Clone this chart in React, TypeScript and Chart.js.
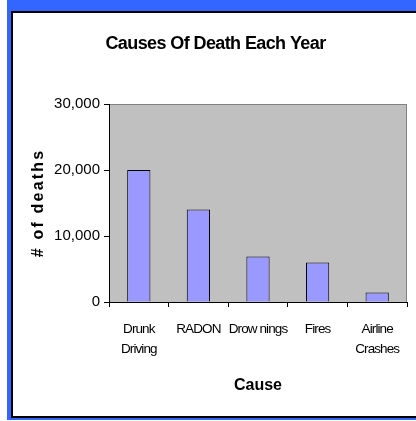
import React, { useEffect, useRef } from "react";
import { Chart, registerables } from "chart.js";

Chart.register(...registerables);

const categories: (string | string[])[] = [
  ["Drunk", "Driving"],
  "RADON",
  "Drow nings",
  "Fires",
  ["Airline", "Crashes"],
];
const deaths: number[] = [20000, 14000, 6900, 6000, 1450];
const yTicks: number[] = [0, 10000, 20000, 30000];
const chartTitle = "Causes Of Death Each Year";
const xTitle = "Cause";
const yTitle = "# of deaths";

const SANS = '"Liberation Sans", Arial, sans-serif';

const plotBg = {
  id: "plotBg",
  beforeDraw(chart: any) {
    const { ctx, chartArea } = chart;
    if (!chartArea) return;
    ctx.save();
    ctx.fillStyle = "#C0C0C0";
    ctx.fillRect(chartArea.left, chartArea.top, chartArea.right - chartArea.left, chartArea.bottom - chartArea.top);
    ctx.strokeStyle = "#808080";
    ctx.lineWidth = 1;
    ctx.beginPath();
    ctx.moveTo(chartArea.left, chartArea.top + 0.5);
    ctx.lineTo(chartArea.right - 0.5, chartArea.top + 0.5);
    ctx.lineTo(chartArea.right - 0.5, chartArea.bottom);
    ctx.stroke();
    ctx.restore();
  },
};

function patchSpacing(chart: any, obj: any, method: string, spacing: string) {
  if (!obj || obj["__p_" + method]) return;
  const orig = obj[method];
  obj[method] = function (...args: any[]) {
    const ctx = chart.ctx;
    const prev = ctx.letterSpacing;
    ctx.letterSpacing = spacing;
    const r = orig.apply(this, args);
    ctx.letterSpacing = prev || "0px";
    return r;
  };
  obj["__p_" + method] = true;
}

const spacing = {
  id: "spacing",
  afterLayout(chart: any) {
    patchSpacing(chart, chart.scales.y, "drawTitle", "2.2px");
    patchSpacing(chart, chart.scales.x, "drawLabels", "-0.9px");
    patchSpacing(chart, chart.titleBlock, "draw", "-0.6px");
  },
};

export default function App() {
  const ref = useRef<HTMLCanvasElement>(null);
  useEffect(() => {
    if (!ref.current) return;
    const chart = new Chart(ref.current, {
      type: "bar",
      data: {
        labels: categories,
        datasets: [
          {
            data: deaths,
            backgroundColor: "#9999FF",
            borderColor: "#000000",
            borderWidth: 1,
            categoryPercentage: 1,
            barPercentage: 0.39,
          },
        ],
      },
      options: {
        responsive: false,
        animation: false,
        layout: { padding: { left: 24, right: 9, top: 0, bottom: 0 } },
        plugins: {
          legend: { display: false },
          tooltip: { enabled: false },
          title: {
            display: true,
            text: chartTitle,
            color: "#000",
            font: { family: SANS, size: 18, weight: "bold", lineHeight: 1.2 },
            padding: { top: 33, bottom: 49.4 },
          },
        },
        scales: {
          x: {
            afterFit: (s: any) => {
              s.height = 421 - 302;
            },
            grid: {
              display: true,
              drawOnChartArea: false,
              drawTicks: true,
              tickLength: 5,
              color: "#000",
              offset: true,
            },
            border: { display: true, color: "#000", width: 1 },
            ticks: {
              color: "#000",
              font: { family: SANS, size: 13.5, lineHeight: 1.5 },
              padding: 12,
              maxRotation: 0,
              minRotation: 0,
              autoSkip: false,
            },
            title: {
              display: true,
              text: xTitle,
              color: "#000",
              font: { family: SANS, size: 16, weight: "bold", lineHeight: 1.2 },
              padding: { top: 0, bottom: 26 },
            },
          },
          y: {
            min: 0,
            max: 30000,
            afterFit: (s: any) => {
              s.width = 109 - 24;
            },
            afterBuildTicks: (s: any) => {
              s.ticks = yTicks.map((v) => ({ value: v }));
            },
            grid: {
              display: true,
              drawOnChartArea: false,
              drawTicks: true,
              tickLength: 5,
              color: "#000",
            },
            border: { display: true, color: "#000", width: 1 },
            ticks: {
              color: "#000",
              font: { family: SANS, size: 15 },
              padding: 4,
              callback: (v: any) => Number(v).toLocaleString("en-US"),
            },
            title: {
              display: true,
              text: yTitle,
              color: "#000",
              font: { family: SANS, size: 16, weight: "bold", lineHeight: 1.2 },
              padding: { top: 5, bottom: 0 },
            },
          },
        },
      },
      plugins: [plotBg, spacing],
    });
    return () => chart.destroy();
  }, []);

  return (
    <div style={{ position: "fixed", left: 0, top: 0, width: 416, height: 421, background: "#fff" }}>
      <div style={{ position: "absolute", left: 7, top: 0, width: 409, height: 420, background: "#3366FF" }} />
      <div
        style={{
          position: "absolute",
          left: 11,
          top: 11,
          width: 405,
          height: 407,
          boxSizing: "border-box",
          background: "#fff",
          borderLeft: "2px solid #000",
          borderTop: "2px solid #000",
          borderBottom: "2px solid #000",
        }}
      />
      <canvas ref={ref} width={416} height={421} style={{ position: "absolute", left: 0, top: 0 }} />
    </div>
  );
}
